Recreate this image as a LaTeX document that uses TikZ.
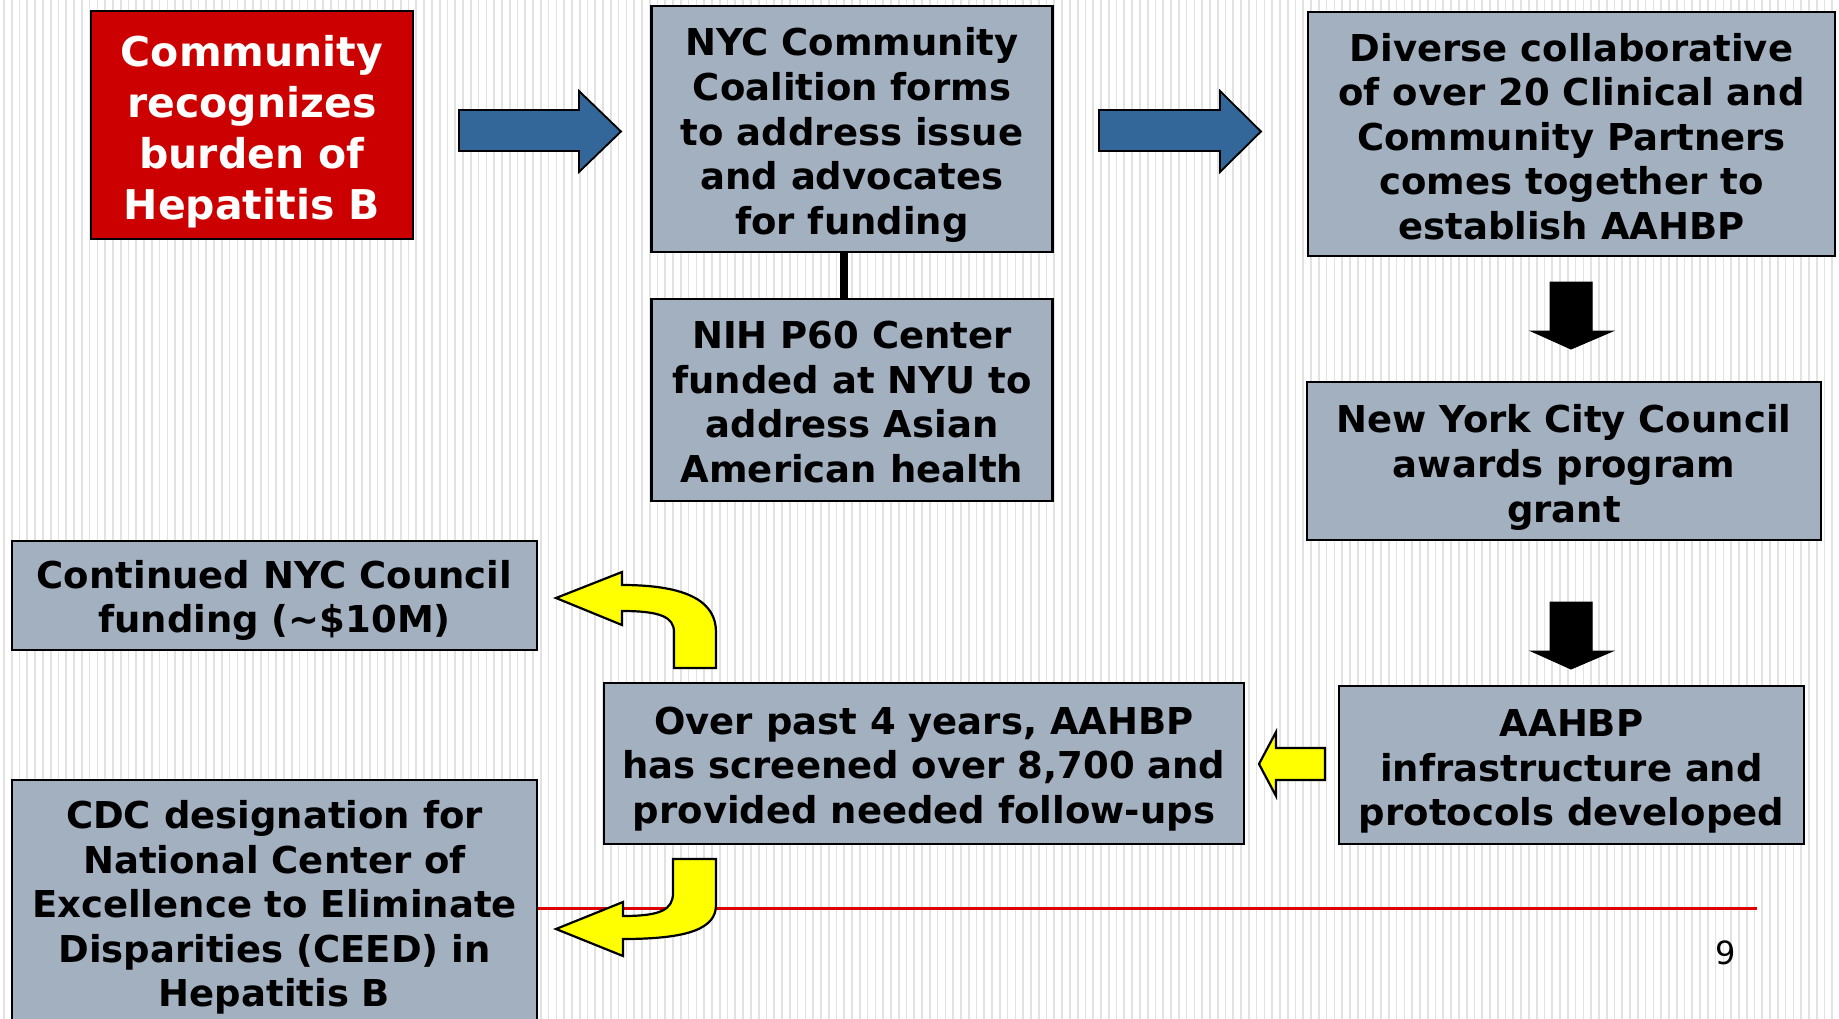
\documentclass[tikz,border=0pt]{standalone}
\usepackage{fontspec}
\setmainfont{DejaVu Sans}
\definecolor{boxgray}{RGB}{162,176,192}
\definecolor{boxred}{RGB}{204,0,0}
\definecolor{arrowblue}{RGB}{51,102,153}
\definecolor{stripe}{RGB}{226,226,226}
\definecolor{slidered}{RGB}{222,0,0}
\definecolor{arrowyellow}{RGB}{255,255,0}
\begin{document}
\begin{tikzpicture}[x=1pt,y=-1pt,
  gbox/.style={draw=black, line width=2.5pt, fill=boxgray, inner sep=0pt},
  rbox/.style={draw=black, line width=2.5pt, fill=boxred, inner sep=0pt},
  gtext/.style={align=center, inner sep=0pt, font=\fontsize{37}{44.6}\selectfont\bfseries},
  rtext/.style={align=center, inner sep=0pt, text=white, font=\fontsize{41}{51}\selectfont\bfseries},
  bluearrow/.style={draw=black, line width=1.8pt, fill=arrowblue, line join=miter},
  blackarrow/.style={draw=black, line width=1pt, fill=black},
  yelarrow/.style={draw=black, line width=2.2pt, fill=arrowyellow, line join=miter},
  connector/.style={draw=black, line width=8pt}]
\useasboundingbox (0,0) rectangle (1839,1019);
\clip (0,0) rectangle (1839,1019);
\fill[white] (0,0) rectangle (1839,1019);
\foreach \i in {0,...,236} {
  \draw[stripe, line width=1.7pt] ({4+7.78*\i},0) -- ({4+7.78*\i},1019);
}
% slide rule line
\coordinate (ruleA) at (530,908);
\coordinate (ruleB) at (1757,908);
\draw[slidered, line width=3pt] (ruleA) -- (ruleB);

% boxes
\node[rbox, minimum width=322pt, minimum height=228pt] (red) at (252,125) {};
\node[rtext] (red-t) at ([yshift=-7pt]red.center) {Community\\recognizes\\burden of\\Hepatitis B};
\node[gbox, minimum width=401pt, minimum height=246pt] (coal) at (852,129) {};
\node[gtext] (coal-t) at ([yshift=-6pt]coal.center) {NYC Community\\Coalition forms\\to address issue\\and advocates\\for funding};
\node[gbox, minimum width=401pt, minimum height=202pt] (nih) at (852,400) {};
\node[gtext] (nih-t) at ([yshift=-2pt]nih.center) {NIH P60 Center\\funded at NYU to\\address Asian\\American health};
\node[gbox, minimum width=527pt, minimum height=244pt] (div) at (1571.5,134) {};
\node[gtext] (div-t) at ([yshift=-2.5pt]div.center) {Diverse collaborative\\of over 20 Clinical and\\Community Partners\\comes together to\\establish AAHBP};
\node[gbox, minimum width=514pt, minimum height=158pt] (nycc) at (1564,461) {};
\node[gtext] (nycc-t) at ([yshift=-6.5pt]nycc.center) {New York City Council\\awards program\\grant};
\node[gbox, minimum width=465pt, minimum height=158pt] (infra) at (1571.5,765) {};
\node[gtext] (infra-t) at ([yshift=-6.5pt]infra.center) {AAHBP\\infrastructure and\\protocols developed};
\node[gbox, minimum width=640pt, minimum height=161pt] (over) at (924,763.5) {};
\node[gtext] (over-t) at ([yshift=-5.5pt]over.center) {Over past 4 years, AAHBP\\has screened over 8,700 and\\provided needed follow-ups};
\node[gbox, minimum width=525pt, minimum height=109pt] (cont) at (274.5,595.5) {};
\node[gtext] (cont-t) at ([yshift=-5pt]cont.center) {Continued NYC Council\\funding (\textasciitilde\$10M)};
\node[gbox, minimum width=525pt, minimum height=250pt] (cdc) at (274.5,905) {};
\node[gtext] (cdc-t) at ([yshift=-2.5pt]cdc.center) {CDC designation for\\National Center of\\Excellence to Eliminate\\Disparities (CEED) in\\Hepatitis B};

% connector coalition - NIH
\draw[connector] ([xshift=-8pt]coal.south) -- ([xshift=-8pt]nih.north);

% blue block arrows
\draw[bluearrow] (459,110) -- (579,110) -- (579,91) -- (621,131.5) -- (579,172) -- (579,151) -- (459,151) -- cycle;
\draw[bluearrow] (1099,110) -- (1220,110) -- (1220,91) -- (1261,131.5) -- (1220,172) -- (1220,151) -- (1099,151) -- cycle;

% black down arrows
\draw[blackarrow] (1550,282) -- (1592,282) -- (1592,331) -- (1613,331) -- (1571,349) -- (1531,331) -- (1550,331) -- cycle;
\draw[blackarrow] (1550,602) -- (1592,602) -- (1592,651) -- (1613,651) -- (1571,669) -- (1531,651) -- (1550,651) -- cycle;

% yellow arrows
\draw[yelarrow] (1325,748) -- (1276,748) -- (1276,732) -- (1259,764) -- (1276,796) -- (1276,780) -- (1325,780) -- cycle;
\draw[yelarrow] (674,668) -- (674,632) .. controls (674,617) and (660,611) .. (622,611)
  -- (622,625) -- (556,598) -- (622,572) -- (622,585)
  .. controls (690,585) and (716,603) .. (716,632) -- (716,668) -- cycle;
\draw[yelarrow] (673,859) -- (716,859) -- (716,905) .. controls (716,928) and (690,939) .. (623,939)
  -- (623,956) -- (556,929) -- (623,902) -- (623,916)
  .. controls (660,916) and (673,910) .. (673,893) -- cycle;

% page number
\node[font=\fontsize{32}{32}\selectfont, inner sep=0pt] (pnum) at (1726,953) {9};
\end{tikzpicture}
\end{document}
